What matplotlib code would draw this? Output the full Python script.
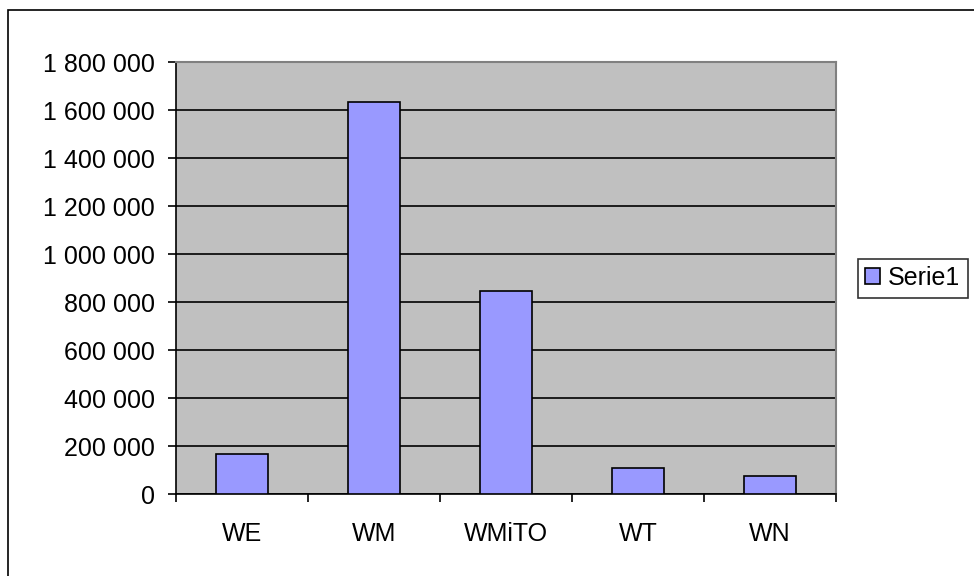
import matplotlib.pyplot as plt
from matplotlib.patches import Rectangle
from matplotlib.ticker import FuncFormatter

categories = ["WE", "WM", "WMiTO", "WT", "WN"]
serie1 = [167000, 1633000, 846000, 108000, 75000]
series_name = "Serie1"

W, H = 974, 576
fig = plt.figure(figsize=(W / 100, H / 100), dpi=100)
plt.rcParams['font.family'] = ['Liberation Sans', 'DejaVu Sans']

# outer chart border (only top/left visible in the image)
fig.patches.append(Rectangle((8 / W, -0.05), 1.2, 1 - 10 / H + 0.05,
                             transform=fig.transFigure, fill=False,
                             edgecolor='black', linewidth=1.2))

ax = fig.add_axes([176 / W, 1 - 494 / H, 660 / W, 432 / H])
ax.set_facecolor('#C0C0C0')

x = range(len(categories))
ax.bar(x, serie1, width=0.4, color='#9999FF', edgecolor='black',
       linewidth=1.2, label=series_name, zorder=3)

ax.set_xlim(-0.5, len(categories) - 0.5)
ax.set_ylim(0, 1800000)
ax.set_yticks(range(0, 1800001, 200000))
ax.yaxis.set_major_formatter(FuncFormatter(
    lambda v, p: f"{int(v):,}".replace(",", " ")))
ax.yaxis.grid(True, color='black', linewidth=1.2, zorder=1)
ax.set_axisbelow(True)

ax.set_xticks(x)
ax.set_xticklabels(categories)
ax.set_xticks([i - 0.5 for i in range(len(categories) + 1)], minor=True)
ax.tick_params(axis='x', which='major', length=0, pad=20, labelsize=18)
ax.tick_params(axis='x', which='minor', length=6, width=1.2, direction='out')
ax.tick_params(axis='y', length=6, width=1.2, direction='out', labelsize=18, pad=9)

for side in ['top', 'right']:
    ax.spines[side].set_color('#808080')
    ax.spines[side].set_linewidth(1.5)
for side in ['left', 'bottom']:
    ax.spines[side].set_linewidth(1.2)

leg = ax.legend(loc='center left', bbox_to_anchor=(1.033, 0.5), fontsize=18,
                frameon=True, fancybox=False, edgecolor='black',
                handlelength=0.6, handleheight=0.6, handletextpad=0.3,
                borderpad=0.3, borderaxespad=0)
leg.get_frame().set_linewidth(1.2)

fig.savefig("out.png", dpi=100)
